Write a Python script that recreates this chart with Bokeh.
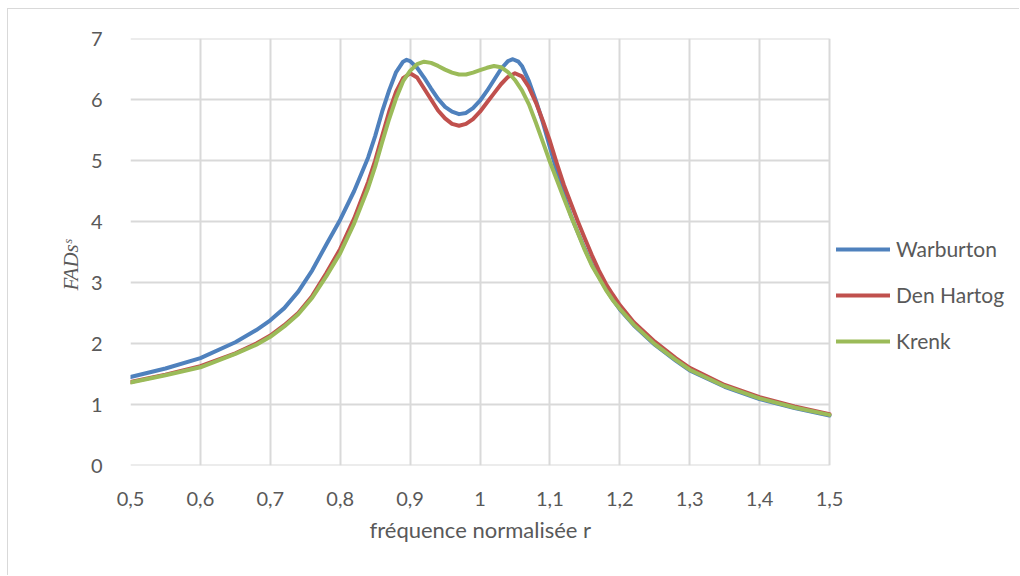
from bokeh.plotting import figure
from bokeh.models import FixedTicker, Legend, LegendItem, Title
from bokeh.embed import file_html
from bokeh.resources import INLINE

# ---- data ----
warburton_r = [0.50, 0.55, 0.60, 0.65, 0.68, 0.70, 0.72, 0.74, 0.76, 0.78, 0.80, 0.82, 0.84, 0.85,
               0.86, 0.87, 0.88, 0.89, 0.895, 0.90, 0.91, 0.92, 0.93, 0.94, 0.95, 0.96, 0.97,
               0.98, 0.99, 1.00, 1.01, 1.02, 1.03, 1.04, 1.047, 1.055, 1.06, 1.07, 1.08, 1.09,
               1.10, 1.11, 1.12, 1.13, 1.14, 1.15, 1.16, 1.17, 1.18, 1.19, 1.20, 1.22, 1.25,
               1.28, 1.30, 1.35, 1.40, 1.45, 1.50]
warburton_v = [1.45, 1.59, 1.76, 2.02, 2.22, 2.38, 2.58, 2.85, 3.20, 3.62, 4.03, 4.50, 5.05, 5.40,
               5.80, 6.15, 6.45, 6.62, 6.65, 6.63, 6.52, 6.36, 6.18, 6.01, 5.88, 5.80, 5.76,
               5.78, 5.86, 5.98, 6.14, 6.32, 6.50, 6.63, 6.66, 6.62, 6.55, 6.30, 5.98, 5.62,
               5.22, 4.82, 4.45, 4.10, 3.82, 3.55, 3.30, 3.10, 2.90, 2.72, 2.56, 2.30, 1.98,
               1.72, 1.56, 1.29, 1.09, 0.94, 0.82]

denhartog_r = [0.50, 0.55, 0.60, 0.65, 0.68, 0.70, 0.72, 0.74, 0.76, 0.78, 0.80, 0.82, 0.84, 0.85,
               0.86, 0.87, 0.88, 0.89, 0.90, 0.91, 0.92, 0.93, 0.94, 0.95, 0.96, 0.97, 0.98,
               0.99, 1.00, 1.01, 1.02, 1.03, 1.04, 1.05, 1.06, 1.07, 1.08, 1.09, 1.10, 1.11,
               1.12, 1.13, 1.14, 1.15, 1.16, 1.17, 1.18, 1.19, 1.20, 1.22, 1.25, 1.28, 1.30,
               1.35, 1.40, 1.45, 1.50]
denhartog_v = [1.37, 1.49, 1.63, 1.84, 2.00, 2.13, 2.30, 2.50, 2.78, 3.15, 3.55, 4.05, 4.65, 5.00,
               5.40, 5.80, 6.13, 6.35, 6.43, 6.36, 6.18, 6.00, 5.82, 5.69, 5.60, 5.57, 5.60,
               5.68, 5.80, 5.95, 6.10, 6.25, 6.37, 6.43, 6.38, 6.20, 5.95, 5.65, 5.32, 4.95,
               4.60, 4.30, 4.00, 3.72, 3.45, 3.20, 2.98, 2.80, 2.63, 2.35, 2.03, 1.76, 1.60,
               1.32, 1.12, 0.97, 0.84]

krenk_r = [0.50, 0.55, 0.60, 0.65, 0.68, 0.70, 0.72, 0.74, 0.76, 0.78, 0.80, 0.82, 0.84, 0.85,
           0.86, 0.87, 0.88, 0.89, 0.90, 0.91, 0.92, 0.93, 0.94, 0.95, 0.96, 0.97, 0.98,
           0.99, 1.00, 1.01, 1.02, 1.03, 1.04, 1.05, 1.06, 1.07, 1.08, 1.09, 1.10, 1.11,
           1.12, 1.13, 1.14, 1.15, 1.16, 1.17, 1.18, 1.19, 1.20, 1.22, 1.25, 1.28, 1.30,
           1.35, 1.40, 1.45, 1.50]
krenk_v = [1.36, 1.48, 1.61, 1.83, 1.98, 2.11, 2.28, 2.48, 2.75, 3.10, 3.48, 3.97, 4.55, 4.90,
           5.30, 5.68, 6.02, 6.30, 6.47, 6.58, 6.62, 6.60, 6.55, 6.49, 6.44, 6.41, 6.41,
           6.44, 6.48, 6.52, 6.55, 6.53, 6.45, 6.32, 6.15, 5.92, 5.62, 5.30, 4.98, 4.68,
           4.38, 4.09, 3.81, 3.53, 3.28, 3.08, 2.88, 2.71, 2.57, 2.31, 1.99, 1.73, 1.57,
           1.30, 1.10, 0.95, 0.83]

x_ticks = [0.5, 0.6, 0.7, 0.8, 0.9, 1.0, 1.1, 1.2, 1.3, 1.4, 1.5]
x_tick_labels = ["0,5", "0,6", "0,7", "0,8", "0,9", "1", "1,1", "1,2", "1,3", "1,4", "1,5"]
y_ticks = [0, 1, 2, 3, 4, 5, 6, 7]

series_names = ["Warburton", "Den Hartog", "Krenk"]
series_colors = ["#4F81BD", "#C0504D", "#9BBB59"]

FONT = "Lato"
TXT = "#595959"
GRID = "#D9D9D9"

# frame spans 130..1020 px; data area (0.5..1.5) occupies 699 px of it, rest holds the legend
X_END = 0.5 + 890 / 699

p = figure(width=1012, height=567, output_backend="svg", toolbar_location=None,
           x_range=(0.5, X_END), y_range=(0, 7),
           min_border_left=122, min_border_right=0, min_border_top=29, min_border_bottom=111)
p.margin = (8, 0, 0, 7)
p.styles = {"border-left": "1px solid #D9D9D9", "border-top": "1px solid #D9D9D9"}
p.background_fill_color = "white"
p.border_fill_color = "white"
p.outline_line_color = None

# horizontal gridlines limited to the data area
p.segment(x0=x_ticks[0], x1=x_ticks[-1], y0=y_ticks, y1=y_ticks, line_color=GRID, line_width=2)

renderers = []
for xs, ys, c in zip([warburton_r, denhartog_r, krenk_r],
                     [warburton_v, denhartog_v, krenk_v], series_colors):
    r = p.line(xs, ys, line_color=c, line_width=4, line_join="round", line_cap="round")
    renderers.append(r)

p.xaxis.ticker = FixedTicker(ticks=x_ticks)
p.xaxis.major_label_overrides = {t: l for t, l in zip(x_ticks, x_tick_labels)}
p.yaxis.ticker = FixedTicker(ticks=y_ticks)

for ax in [p.xaxis[0], p.yaxis[0]]:
    ax.major_tick_line_color = None
    ax.minor_tick_line_color = None
    ax.major_label_text_font = FONT
    ax.major_label_text_font_size = "20px"
    ax.major_label_text_color = TXT
    ax.axis_line_color = None

p.xaxis.major_label_standoff = 20
p.yaxis.major_label_standoff = 22

p.xgrid.grid_line_color = GRID
p.xgrid.grid_line_width = 2
p.ygrid.grid_line_color = None

# axis titles, positioned to sit centred on the data area as in the reference
xt = Title(text="fréquence normalisée r", align="left", offset=239,
           text_font=FONT, text_font_size="22px", text_font_style="normal", text_color=TXT)
p.add_layout(xt, "below")
yt = Title(text="FADsˢ", align="left", offset=175,
           text_font="Liberation Serif", text_font_size="21px", text_font_style="italic",
           text_color=TXT)
p.add_layout(yt, "left")

legend = Legend(items=[LegendItem(label=n, renderers=[r]) for n, r in zip(series_names, renderers)],
                location=(706, 112), orientation="vertical")
legend.glyph_width = 54
legend.glyph_height = 20
legend.label_height = 20
legend.spacing = 21
legend.padding = 0
legend.margin = 0
legend.label_standoff = 6
legend.border_line_color = None
legend.background_fill_alpha = 0
legend.label_text_font = FONT
legend.label_text_font_size = "21px"
legend.label_text_color = TXT
p.add_layout(legend, "center")

open("out.html", "w").write(file_html(p, INLINE))
